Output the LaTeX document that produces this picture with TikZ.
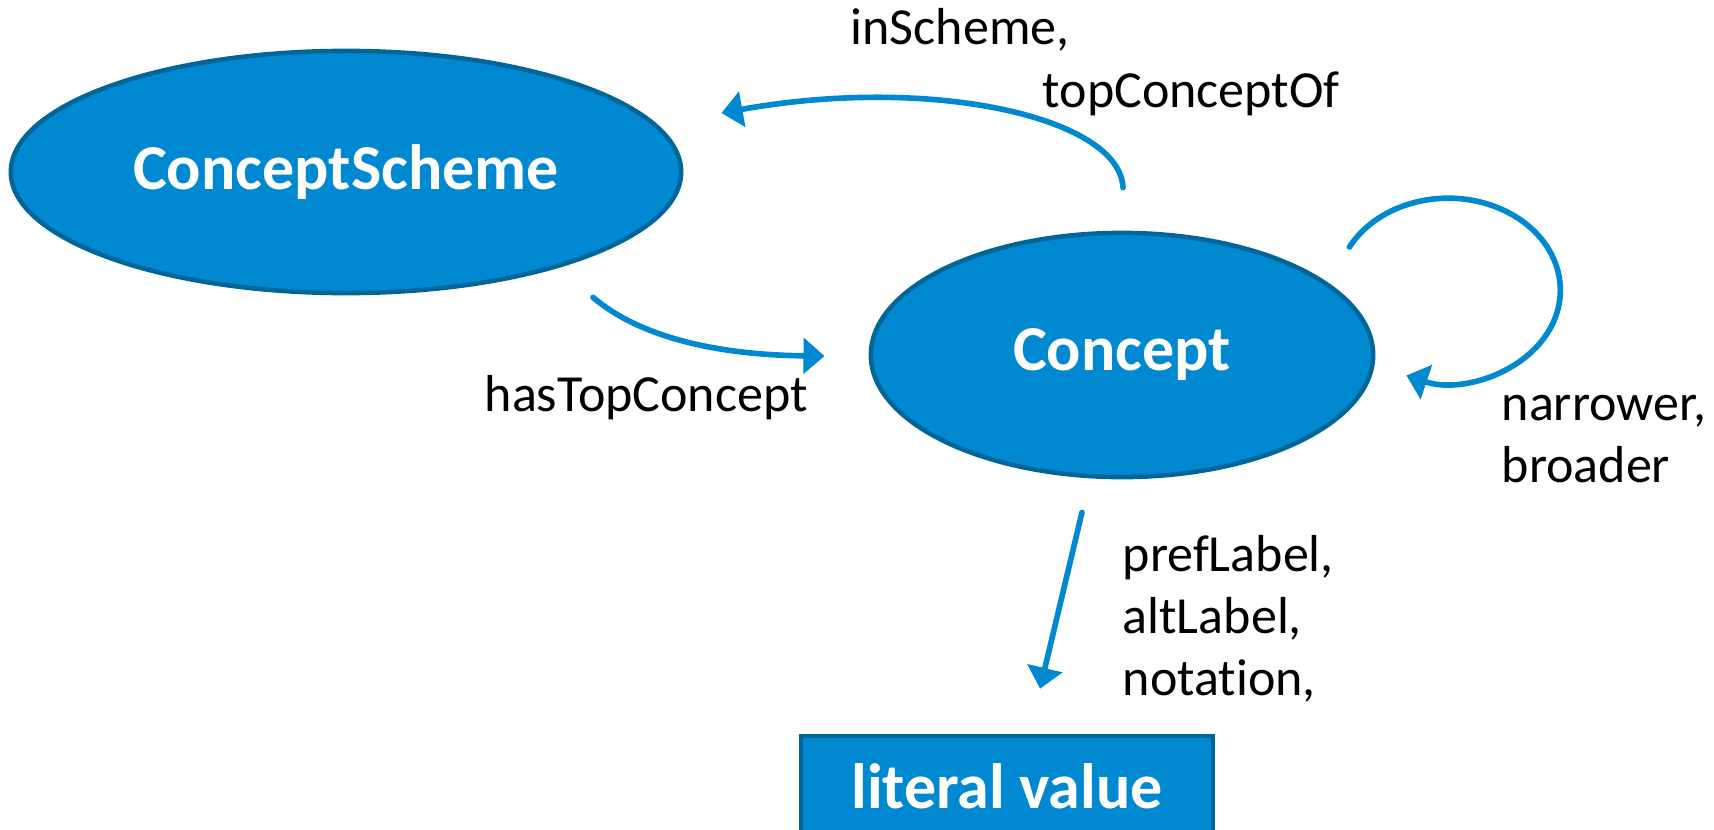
\documentclass[tikz,border=0pt]{standalone}
\usepackage{fontspec}
\setmainfont[Ligatures=NoCommon]{Carlito}
\usetikzlibrary{shapes.geometric,arrows.meta}
\definecolor{skosblue}{RGB}{0,137,208}
\definecolor{skosdark}{RGB}{0,101,153}

\begin{document}
\begin{tikzpicture}[x=0.01cm,y=0.01cm,
  every class/.style={ellipse,draw=skosdark,line width=1.3pt,fill=skosblue,text=white,inner sep=0pt,font=\fontsize{18.2}{22}\selectfont\bfseries},
  every literal/.style={rectangle,draw=skosdark,line width=1.3pt,fill=skosblue,text=white,inner sep=0pt,font=\fontsize{18.2}{22}\selectfont\bfseries},
  rel/.style={draw=skosblue,line width=1.6pt,line cap=round,-{Triangle[length=6pt,width=10pt]}},
  rellabel/.style={font=\fontsize{14.8}{17.6}\selectfont,align=left,inner sep=0pt,anchor=base west}]
\useasboundingbox (0,0) rectangle (1714,829);
\node[every class,minimum width=6.7cm,minimum height=2.42cm] (cs) at (346,657) {ConceptScheme};
\node[every class,minimum width=5.02cm,minimum height=2.44cm] (c) at (1122,474) {Concept};
\node[every literal,minimum width=4.12cm,minimum height=1cm] (lit) at (1007,43) {literal value};
\path (c.north) ++(1,43) coordinate (is1);
\path (cs.east) ++(38,59) coordinate (is2);
\path (cs.south) ++(247,-2) coordinate (ht1);
\path (c.west) ++(-44,-1) coordinate (ht2);
\path (c.east) ++(-26,108) coordinate (nb1);
\path (c.south) ++(-40,-33) coordinate (pl1);
\path (lit.north) ++(33,45) coordinate (pl2);

\draw[rel] (is1) .. controls +(-3,70) and +(211,38) .. (is2);
\draw[rel] (ht1) .. controls +(47,-40) and +(-107,1) .. (ht2);
\draw[rel] (nb1) arc[start angle=152,end angle=-112,x radius=112,y radius=92];
\draw[rel] (pl1) -- (pl2);

\node[rellabel] (isl) at (850,785) {inScheme,};
\node[rellabel] (tcl) at (1042,722) {topConceptOf};
\node[rellabel] (htl) at (484,418) {hasTopConcept};
\node[rellabel] (nbl) at (1501,347) {narrower,\\broader};
\node[rellabel] (pll) at (1122,134) {prefLabel,\\altLabel,\\notation,};
\end{tikzpicture}
\end{document}
